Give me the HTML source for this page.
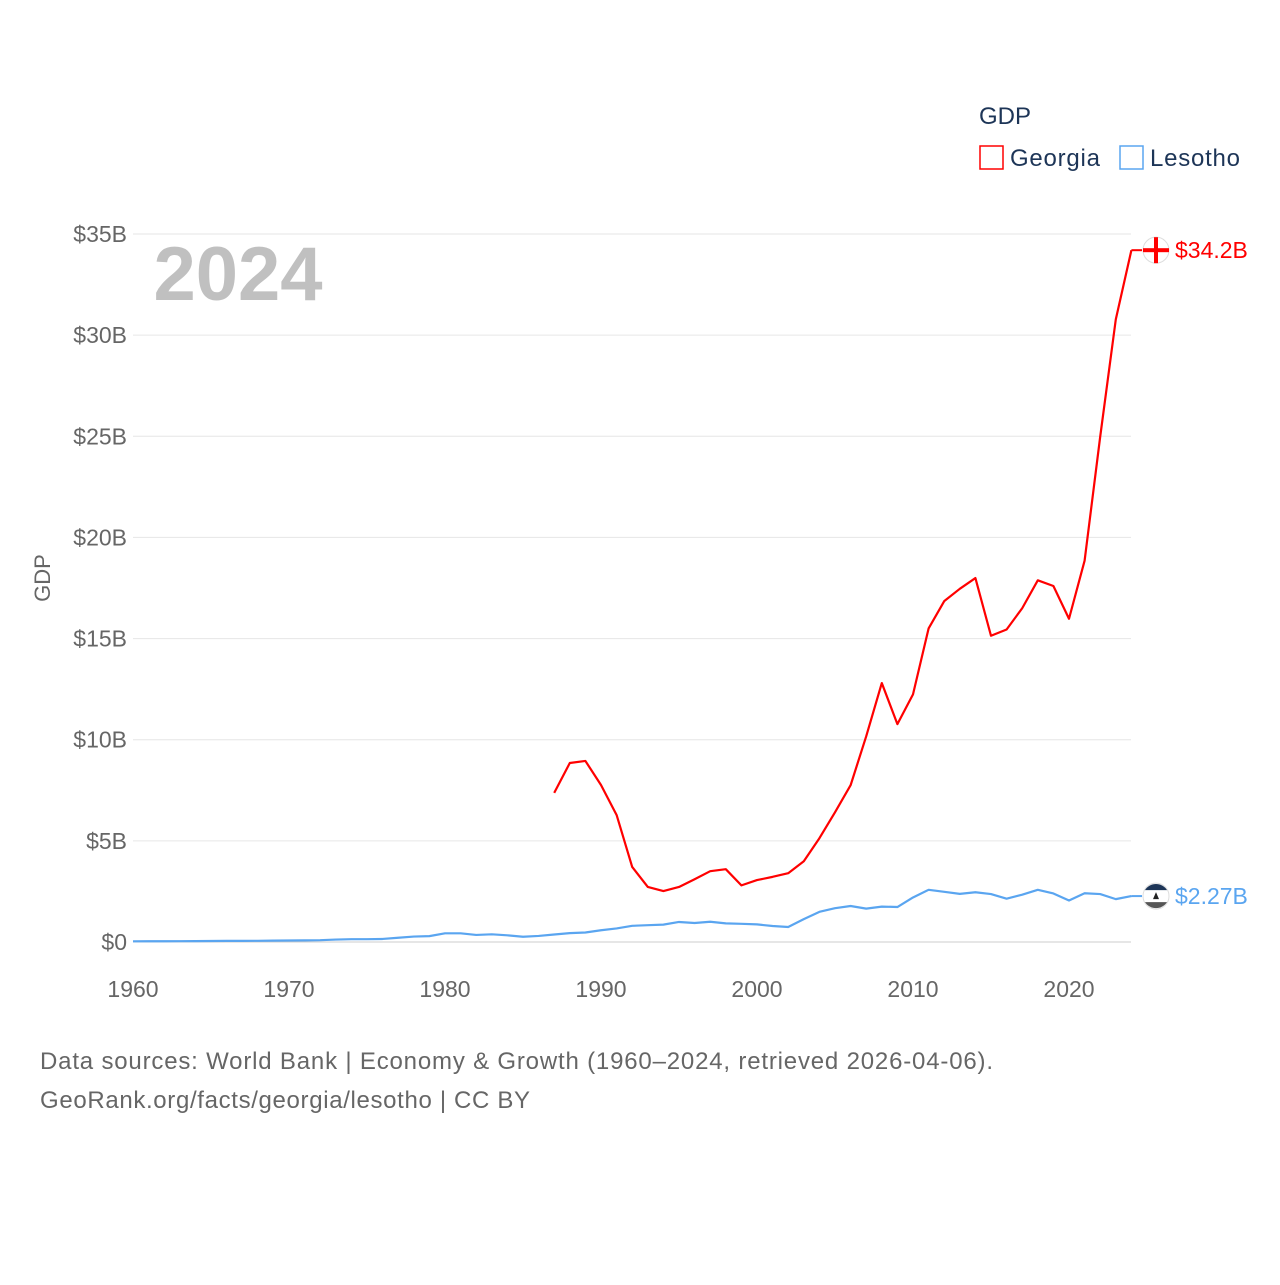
<!DOCTYPE html>
<html><head><meta charset="utf-8"><style>
body{margin:0;background:#fff;font-family:"Liberation Sans",sans-serif}
svg text{font-family:"Liberation Sans",sans-serif}
</style></head><body>
<svg width="1280" height="1280" viewBox="0 0 1280 1280">
<g id="grid"></g>
<g id="yt"></g>
<g id="xt"></g>
<text x="238" y="300" font-size="76" font-weight="bold" fill="#c0c0c0" text-anchor="middle">2024</text>
<text transform="translate(50,578) rotate(-90)" font-size="22" fill="#666" text-anchor="middle">GDP</text>
<text x="979" y="124" font-size="24" fill="#1d3557">GDP</text>
<g><rect x="980" y="146" width="23" height="23" fill="none" stroke="#f00" stroke-width="1.5"/><text x="1010" y="166" font-size="24" fill="#1d3557" textLength="90">Georgia</text></g>
<g><rect x="1120" y="146" width="23" height="23" fill="none" stroke="#5aa5f0" stroke-width="1.5"/><text x="1150" y="166" font-size="24" fill="#1d3557" textLength="90">Lesotho</text></g>
<g id="series"></g>
<text x="40" y="1069" font-size="24" fill="#666" textLength="953">Data sources: World Bank | Economy &amp; Growth (1960–2024, retrieved 2026-04-06).</text>
<text x="40" y="1108" font-size="24" fill="#666" textLength="490">GeoRank.org/facts/georgia/lesotho | CC BY</text>
</svg>
<script>
const years=[];for(let y=1960;y<=2024;y++)years.push(y);
const georgiaStart=1987;
const georgia=[7.37,8.85,8.95,7.76,6.28,3.71,2.72,2.52,2.72,3.1,3.5,3.6,2.8,3.06,3.22,3.4,3.99,5.13,6.41,7.75,10.17,12.8,10.77,12.24,15.5,16.85,17.46,17.99,15.14,15.45,16.5,17.88,17.6,15.98,18.85,24.98,30.78,34.2];
const lesotho=[0.034,0.036,0.038,0.04,0.045,0.05,0.054,0.055,0.059,0.067,0.074,0.08,0.09,0.12,0.14,0.14,0.15,0.21,0.27,0.29,0.43,0.43,0.35,0.38,0.33,0.26,0.3,0.37,0.44,0.47,0.58,0.67,0.8,0.83,0.86,0.99,0.94,1.0,0.92,0.9,0.87,0.79,0.74,1.13,1.49,1.67,1.78,1.65,1.75,1.73,2.2,2.58,2.48,2.38,2.46,2.37,2.14,2.34,2.58,2.4,2.05,2.41,2.37,2.12,2.27];
const yTicks=[0,5,10,15,20,25,30,35];
const xTicks=[1960,1970,1980,1990,2000,2010,2020];
const X=y=>133+(y-1960)*15.6, Y=v=>942-v*(708/35);
const NS='http://www.w3.org/2000/svg';
function mk(t,a,p){const e=document.createElementNS(NS,t);for(const k in a)e.setAttribute(k,a[k]);p.appendChild(e);return e;}
const grid=document.getElementById('grid'),yt=document.getElementById('yt'),xt=document.getElementById('xt'),ser=document.getElementById('series');
yTicks.forEach(v=>{const l=mk('line',{x1:133,x2:1131,y1:Y(v),y2:Y(v),stroke:v?'#e6e6e6':'#ccc','stroke-width':1},grid);


const t=mk('text',{x:127,y:Y(v)+8,'font-size':23,fill:'#666','text-anchor':'end'},yt);t.textContent='$'+v+(v?'B':'');

});
xTicks.forEach(v=>{const t=mk('text',{x:X(v),y:997,'font-size':23,fill:'#666','text-anchor':'middle'},xt);t.textContent=v;

});
function line(vals,start,col,name){const p=mk('polyline',{points:vals.map((v,i)=>X(start+i)+','+Y(v)).join(' '),fill:'none',stroke:col,'stroke-width':2.2,'stroke-linejoin':'round'},ser);

}
line(georgia,georgiaStart,'#f00','georgia-line');
line(lesotho,1960,'#5aa5f0','lesotho-line');
function end(v,col,lab,name,flag){const y=Y(v);mk('line',{x1:X(2024),x2:1142,y1:y,y2:y,stroke:col,'stroke-width':2},ser);
const c=mk('circle',{cx:1156,cy:y,r:13,fill:'#fff',stroke:'#ddd'},ser);


if(flag){mk('rect',{x:1143,y:y-2,width:26,height:4,fill:'#f00'},ser);mk('rect',{x:1154,y:y-13,width:4,height:26,fill:'#f00'},ser);}
else{mk('path',{d:`M1145 ${y-6} A13 13 0 0 1 1167 ${y-6} Z`,fill:'#1d3557'},ser);mk('path',{d:`M1145 ${y+6} A13 13 0 0 0 1167 ${y+6} Z`,fill:'#555'},ser);mk('path',{d:`M1153 ${y+3} L1156 ${y-4} L1159 ${y+3} Z`,fill:'#222'},ser);}
const t=mk('text',{x:1175,y:y+8,'font-size':23,fill:col},ser);t.textContent=lab;

}
end(georgia[georgia.length-1],'#f00','$34.2B','georgia',true);
end(lesotho[lesotho.length-1],'#5aa5f0','$2.27B','lesotho',false);
</script>
</body></html>
